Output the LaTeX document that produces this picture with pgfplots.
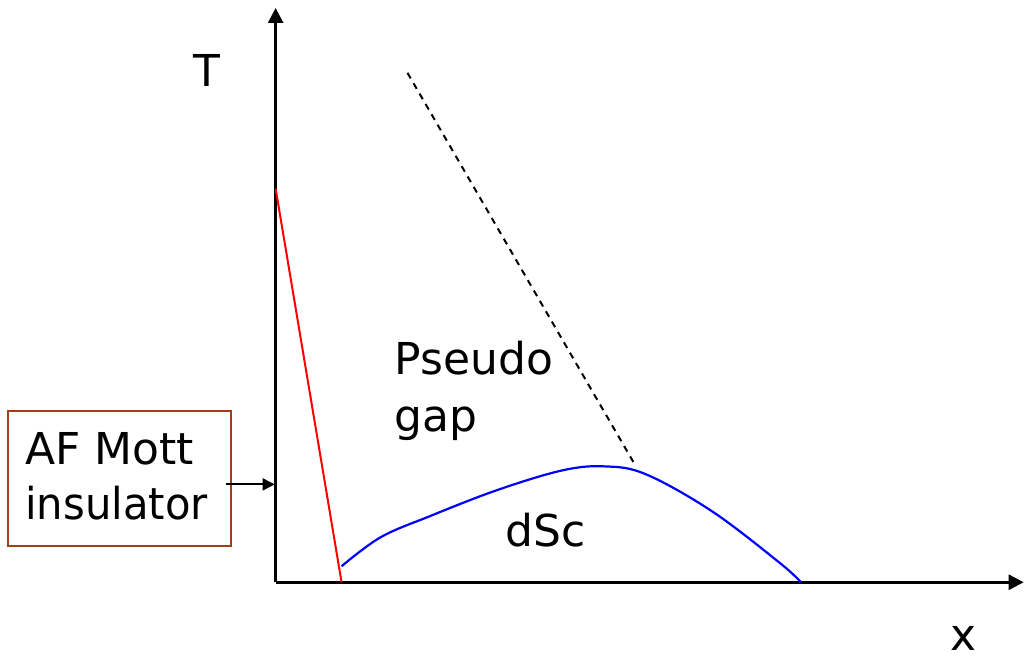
\documentclass[border=0pt]{standalone}
\usepackage{pgfplots}
\pgfplotsset{compat=1.18}
\usepackage{fontspec}
\setmainfont{DejaVu Sans}
\usetikzlibrary{arrows.meta}
\definecolor{boxbrown}{RGB}{160,64,24}
\begin{document}
\begin{tikzpicture}
\begin{axis}[
  x=0.5pt, y=0.5pt,
  xmin=0, xmax=749, ymin=0, ymax=575,
  axis lines=left,
  axis line style={line width=1.3pt, -{Triangle[length=7.5pt,width=7.5pt]}},
  xtick=\empty, ytick=\empty,
  clip=false,
  font=\fontsize{22}{27.5}\selectfont,
]
% red AF boundary
\addplot[red, line width=1pt] coordinates {(0,394) (66,0)};
% pseudogap crossover (dashed)
\addplot[black, line width=1pt, dash pattern=on 3.2pt off 2.8pt] coordinates {(132,510) (359,119)};
% dSc dome
\addplot[blue, line width=1.1pt, smooth, tension=0.6] coordinates {
(66,16) (105,45) (154,66) (221,92) (287,112) (330,116) (371,108)
(437,71) (504,20) (526,0)};
% labels
\node[anchor=base] at (axis cs:-69,496) {T};
\node[anchor=base] at (axis cs:689,-68) {x};
\node[anchor=base west, inner sep=0pt] at (axis cs:119,208) {Pseudo};
\node[anchor=base west, inner sep=0pt] at (axis cs:119,151) {gap};
\node[anchor=base west, inner sep=0pt] at (axis cs:230,36) {dSc};
% box
\draw[boxbrown, line width=1pt] (axis cs:-268,36) rectangle (axis cs:-45,171);
\node[anchor=base west, inner sep=0pt] at (axis cs:-251,118) {AF Mott};
\node[anchor=base west, inner sep=0pt] at (axis cs:-251,63) {\scalebox{0.95}[1]{insulator}};
\draw[line width=1pt, -{Triangle[length=6pt,width=6pt]}] (axis cs:-50,98) -- (axis cs:-1,98);
\coordinate (BL) at (axis cs:-276,-73);
\coordinate (TR) at (axis cs:749,583);
\end{axis}
\path (BL) rectangle (TR);
\end{tikzpicture}
\end{document}
